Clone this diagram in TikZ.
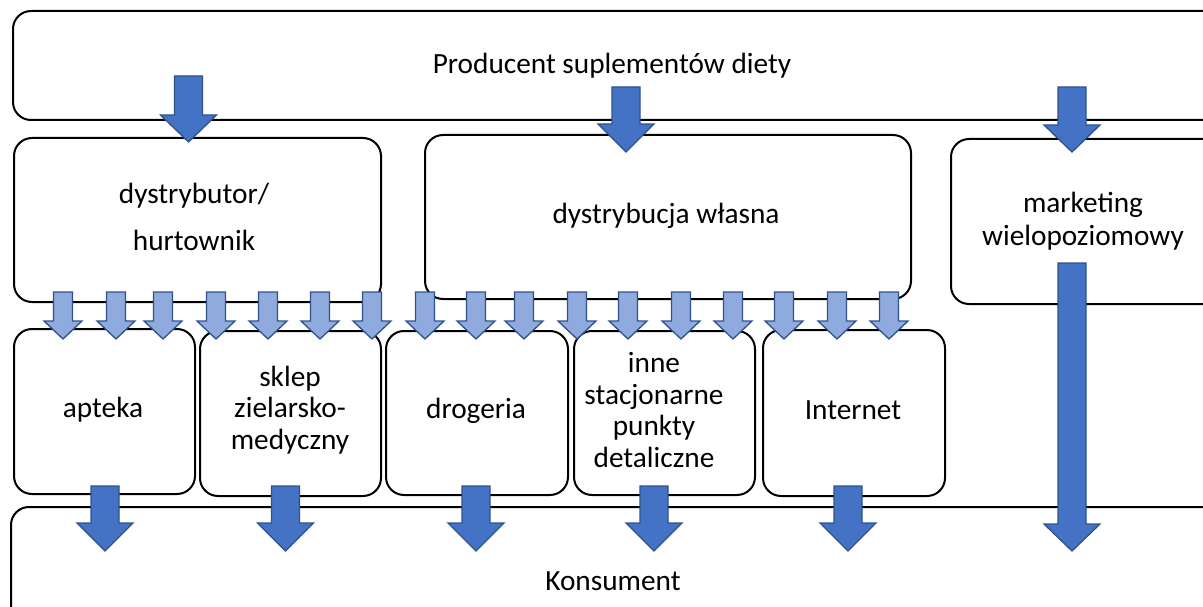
\documentclass[tikz,border=0pt]{standalone}
\usepackage{fontspec}
\setmainfont{Carlito}
\begin{document}
\begin{tikzpicture}[x=1pt,y=-1pt,
  box/.style={draw=black,line width=2pt,rounded corners=18pt,anchor=north west,inner sep=0pt},
  lbl/.style={font=\fontsize{29.3}{31.7}\selectfont,align=center,inner sep=0pt,text=black},
  bigarr/.style={fill=arrowdark,draw=arrowedge,line width=1.3pt,line join=miter},
  smallarr/.style={fill=arrowlight,draw=arrowedge,line width=1.3pt,line join=miter}]
\definecolor{arrowdark}{HTML}{4472C4}
\definecolor{arrowlight}{HTML}{8FAADC}
\definecolor{arrowedge}{HTML}{2F528F}
\useasboundingbox (0,0) rectangle (1203,607);
\fill[white] (0,0) rectangle (1203,607);

% block arrow: style, centre x, top, start of head, tip, half shaft, half head
\newcommand{\blockarrow}[7]{%
  \draw[#1] ({#2-#6},#3) -- ({#2+#6},#3) -- ({#2+#6},#4) -- ({#2+#7},#4)
    -- (#2,#5) -- ({#2-#7},#4) -- ({#2-#6},#4) -- cycle;}

% boxes
\node[box,minimum width=1210pt,minimum height=109pt] (prod) at (12,10) {};
\node[box,minimum width=367pt,minimum height=164pt] (dyst) at (13,137) {};
\node[box,minimum width=486pt,minimum height=164pt] (wlasna) at (424,134) {};
\node[box,minimum width=270pt,minimum height=165pt] (mlm) at (950,138) {};
\node[box,minimum width=181pt,minimum height=165pt] (apteka) at (13,328) {};
\node[box,minimum width=181pt,minimum height=165pt] (sklep) at (199,330) {};
\node[box,minimum width=182pt,minimum height=164pt] (drog) at (385,330) {};
\node[box,minimum width=181pt,minimum height=164pt] (inne) at (573,330) {};
\node[box,minimum width=182pt,minimum height=166pt] (inter) at (762,329) {};
\node[box,minimum width=1210pt,minimum height=140pt] (kons) at (10,506) {};

% labels
\node[lbl] (tprod) at (612,66) {Producent suplementów diety};
\node[lbl,anchor=base] (tdyst1) at (194,204) {dystrybutor/};
\node[lbl,anchor=base] (tdyst2) at (194,251) {hurtownik};
\node[lbl] (twlasna) at (666,216) {dystrybucja własna};
\node[lbl,anchor=base] (tmlm1) at (1083,213) {marketing};
\node[lbl,anchor=base] (tmlm2) at (1083,245) {wielopoziomowy};
\node[lbl] (tapteka) at (103,410) {apteka};
\node[lbl] (tsklep) at (290,410) {sklep\\zielarsko-\\medyczny};
\node[lbl] (tdrog) at (476,411) {drogeria};
\node[lbl] (tinne) at (654,410) {inne\\stacjonarne\\punkty\\detaliczne};
\node[lbl] (tinter) at (853,410) {Internet};
\node[lbl] (tkons) at (613,581) {Konsument};

% channels leaving the producer
\blockarrow{bigarr}{188.5}{76}{115}{142}{14}{28}
\blockarrow{bigarr}{626}{87}{124}{152}{14}{28}
\blockarrow{bigarr}{1072}{87}{125}{152}{14}{28}

% supply of the retail outlets
\foreach \cx in {63,116,163,216,268,320,372,425,476,524,577,628,681,733,784,837,889}
  {\blockarrow{smallarr}{\cx}{292}{321}{339}{9.5}{19}}

% sales to the consumer
\foreach \cx in {105,285.5,476,654,848}
  {\blockarrow{bigarr}{\cx}{486}{523}{551}{14}{28}}
\blockarrow{bigarr}{1072}{263}{524}{551}{14}{28}
\end{tikzpicture}
\end{document}
